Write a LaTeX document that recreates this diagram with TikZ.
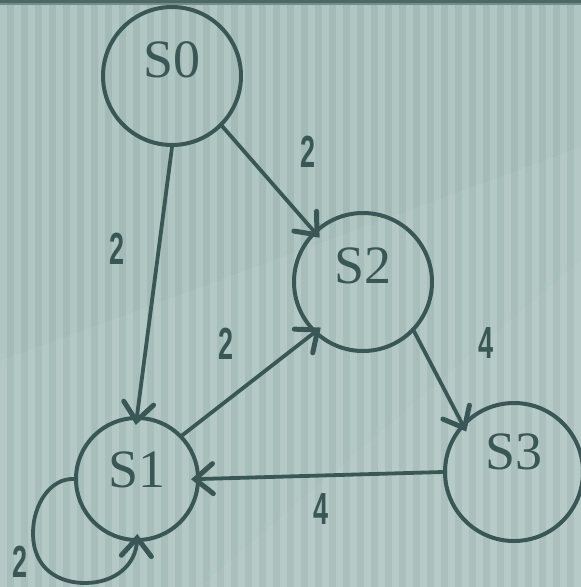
\documentclass[tikz,border=0pt]{standalone}
\usepackage{fontspec}
\setmainfont{Liberation Serif}
\newfontfamily\condfont[FakeStretch=0.6]{Liberation Sans}
\usetikzlibrary{arrows.meta}
\definecolor{ink}{HTML}{3A5755}
\definecolor{bgA}{HTML}{B0C6C2}
\definecolor{bgB}{HTML}{A3BAB6}
\tikzset{
  state/.style={circle, draw=ink, line width=4pt, inner sep=0pt},
  edge/.style={draw=ink, line width=3.8pt, line cap=round,
    -{Straight Barb[length=18pt,width=30pt,line width=5pt,line cap=round]}, shorten >=-9pt},
  lbl/.style={text=ink, inner sep=0pt, font=\fontsize{54}{60}\selectfont},
  wt/.style={text=ink, inner sep=0pt, font=\condfont\bfseries\fontsize{45}{50}\selectfont}
}
\begin{document}
\begin{tikzpicture}[x=1pt,y=-1pt]
\useasboundingbox (0,0) rectangle (581,587);
% background
\fill[bgB] (0,0) rectangle (581,587);
\foreach \i in {0,...,41} \fill[bgA] ({\i*14},0) rectangle ({\i*14+7},587);
\fill[white, opacity=0.06] (0,361) -- (581,147) -- (581,587) -- (0,587) -- cycle;
\fill[white, opacity=0.04] (200,587) -- (581,260) -- (581,587) -- cycle;
\fill[ink!90] (0,0) rectangle (581,2.5);
\fill[ink!45!bgB] (0,2.5) rectangle (581,5);
% states
\node[state, minimum size=138pt, label={[lbl, yshift=16pt]center:S0}] (s0) at (172,76) {};
\node[state, minimum size=122pt, label={[lbl, yshift=9pt]center:S1}] (s1) at (137,479) {};
\node[state, minimum size=138pt, label={[lbl, yshift=16pt]center:S2}] (s2) at (363,282) {};
\node[state, minimum size=138pt, label={[lbl, yshift=20pt]center:S3}] (s3) at (514,472) {};
% edges
\draw[edge] (s0.270) -- (s1.90);
\draw[edge] (s0.-45) -- (s2.134);
\draw[edge] (s1.44) -- (s2.226);
\draw[edge] (s2.-44) -- (s3.137);
\draw[edge] (s3.180) -- (s1.0);
\draw[edge, shorten >=-8pt] (s1.180) .. controls (50,478) and (33,505) .. (33,533)
  .. controls (33,570) and (60,583) .. (85,583)
  .. controls (115,583) and (136,565) .. (s1.270);
% weights
\node[wt] (w01) at (117,249) {2};
\node[wt] (w02) at (308,152) {2};
\node[wt] (w12) at (226,344) {2};
\node[wt] (w23) at (486,343) {4};
\node[wt] (w31) at (321,509) {4};
\node[wt] (w11) at (20,562) {2};
\end{tikzpicture}
\end{document}
